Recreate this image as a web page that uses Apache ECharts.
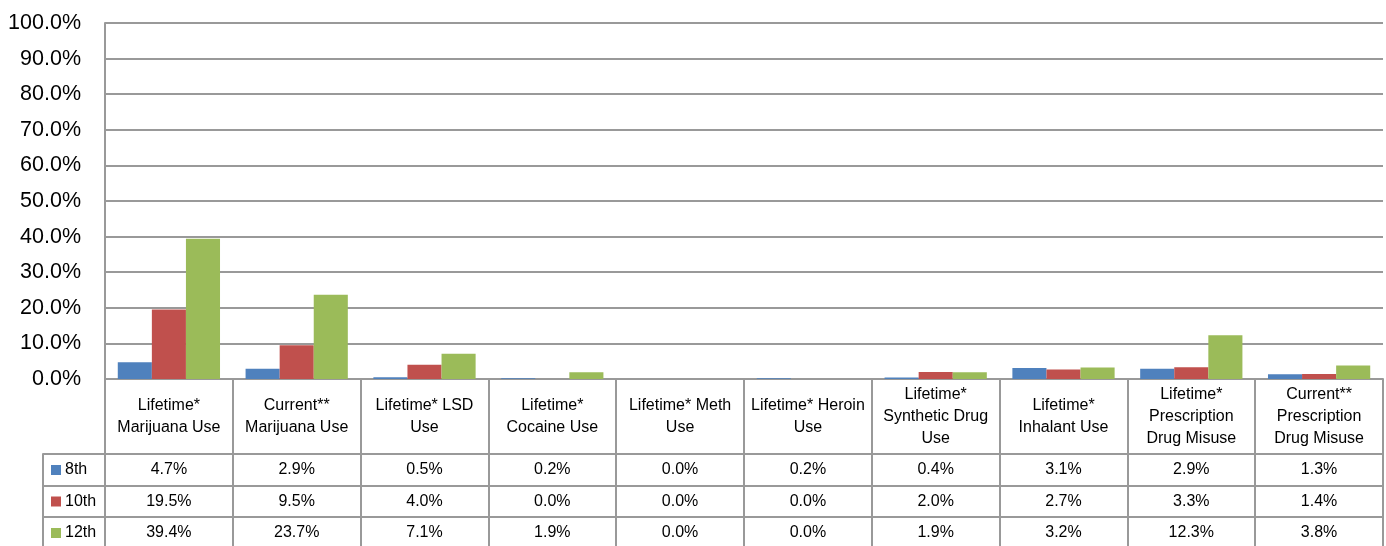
<!DOCTYPE html>
<html>
<head>
<meta charset="utf-8">
<script src="https://cdn.jsdelivr.net/npm/echarts@6/dist/echarts.min.js"></script>
<style>
html,body{margin:0;padding:0;background:#fff;}
#c{width:1386px;height:546px;}
</style>
</head>
<body>
<div id="c"></div>
<script>
var categories = [
  'Lifetime*\nMarijuana Use',
  'Current**\nMarijuana Use',
  'Lifetime* LSD\nUse',
  'Lifetime*\nCocaine Use',
  'Lifetime* Meth\nUse',
  'Lifetime* Heroin\nUse',
  'Lifetime*\nSynthetic Drug\nUse',
  'Lifetime*\nInhalant Use',
  'Lifetime*\nPrescription\nDrug Misuse',
  'Current**\nPrescription\nDrug Misuse'
];
var seriesNames = ['8th', '10th', '12th'];
var grade8 = [4.7, 2.9, 0.5, 0.2, 0.0, 0.2, 0.4, 3.1, 2.9, 1.3];
var grade10 = [19.5, 9.5, 4.0, 0.0, 0.0, 0.0, 2.0, 2.7, 3.3, 1.4];
var grade12 = [39.4, 23.7, 7.1, 1.9, 0.0, 0.0, 1.9, 3.2, 12.3, 3.8];
var yTicks = [0, 10, 20, 30, 40, 50, 60, 70, 80, 90, 100];

var colors = ['#4f81bd', '#c0504d', '#9bbb59'];
var lineColor = '#999999';
var FONT = '"Liberation Sans", Arial, sans-serif';
var rows = [grade8, grade10, grade12];

function pct(v) { return v.toFixed(1) + '%'; }

var xAxes = [{
  type: 'category', gridIndex: 0, data: categories, position: 'bottom',
  axisLine: { show: true, lineStyle: { color: lineColor, width: 2 } },
  axisTick: { show: true, length: 75, interval: 0, lineStyle: { color: lineColor, width: 2 } },
  axisLabel: { interval: 0, margin: 37.5, verticalAlign: 'middle', fontFamily: FONT, fontSize: 16, lineHeight: 22, color: '#000' },
  splitLine: { show: false }
}];
var offsets = [75, 107, 138];
var tickLens = [32, 31, 32];
rows.forEach(function (arr, r) {
  xAxes.push({
    type: 'category', gridIndex: 0, data: categories, position: 'bottom', offset: offsets[r],
    axisLine: { show: true, lineStyle: { color: lineColor, width: 2 } },
    axisTick: { show: true, length: tickLens[r], interval: 0, lineStyle: { color: lineColor, width: 2 } },
    axisLabel: { interval: 0, margin: 16, verticalAlign: 'middle', fontFamily: FONT, fontSize: 16, color: '#000',
      formatter: function (v, i) { return pct(arr[i]); } },
    splitLine: { show: false }
  });
});
// legend column grid axes
xAxes.push({ type: 'value', gridIndex: 1, show: false, min: 0, max: 1 });

var series = rows.map(function (arr, r) {
  return {
    name: seriesNames[r], type: 'bar', xAxisIndex: 0, yAxisIndex: 0,
    data: arr, barGap: '0%', barCategoryGap: '20%',
    itemStyle: { color: colors[r] }
  };
});

var chart = echarts.init(document.getElementById('c'));
chart.setOption({
  animation: false,
  textStyle: { fontFamily: FONT },
  grid: [
    { left: 105, right: 3, top: 23, bottom: 167, containLabel: false, outerBoundsMode: 'none' },
    { left: 43, width: 62, top: 454, height: 94, containLabel: false, outerBoundsMode: 'none' }
  ],
  legend: {
    orient: 'vertical', left: 51, top: 461, padding: 0,
    itemWidth: 10, itemHeight: 10, itemGap: 13.5, icon: 'rect',
    data: seriesNames,
    textStyle: { fontFamily: FONT, fontSize: 16, lineHeight: 18, color: '#000', padding: [0, 0, 0, -1] }
  },
  xAxis: xAxes,
  yAxis: [{
    type: 'value', gridIndex: 0, min: yTicks[0], max: yTicks[yTicks.length - 1], interval: 10,
    axisLine: { show: true, lineStyle: { color: lineColor, width: 2 } },
    axisTick: { show: false },
    axisLabel: { margin: 24, fontFamily: FONT, fontSize: 21.5, color: '#000', formatter: function (v) { return pct(v); } },
    splitLine: { show: true, lineStyle: { color: lineColor, width: 2 } }
  }, {
    type: 'category', gridIndex: 1, data: seriesNames, inverse: true,
    axisLine: { show: true, lineStyle: { color: lineColor, width: 2 } },
    axisTick: { show: true, inside: true, length: 62, interval: 0, lineStyle: { color: lineColor, width: 2 } },
    axisLabel: { show: false },
    splitLine: { show: false }
  }],
  series: series
});
</script>
</body>
</html>
